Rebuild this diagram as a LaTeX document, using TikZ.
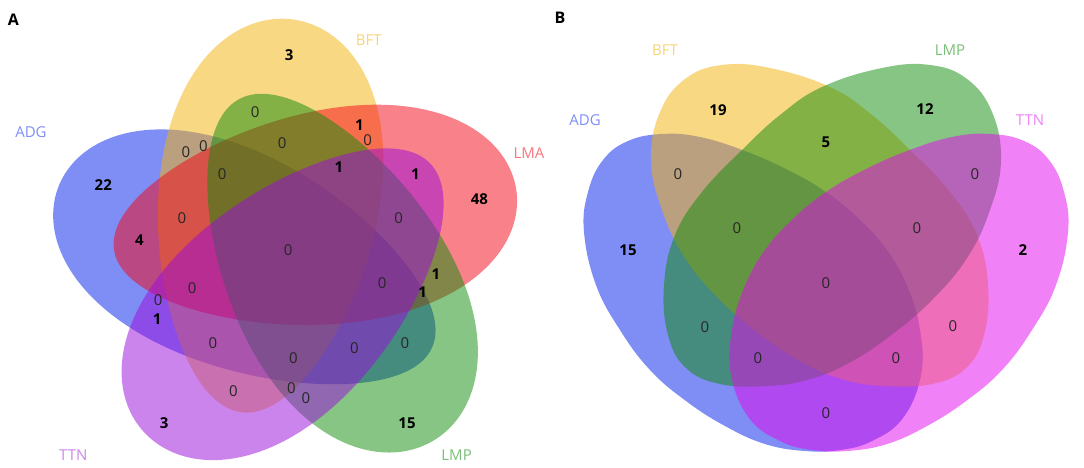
\documentclass[tikz,border=0pt]{standalone}
\usepackage{fontspec}
\setmainfont{Open Sans}
\definecolor{cblue}{RGB}{0,30,235}
\definecolor{cyellow}{RGB}{245,178,10}
\definecolor{cred}{RGB}{245,5,20}
\definecolor{cgreen}{RGB}{15,140,10}
\definecolor{cpurple}{RGB}{155,10,220}
\definecolor{cmagenta}{RGB}{228,5,238}
% \vegg{cx}{cy}{angle}{a}{b}{colour}{egg factor}
\newcommand\vegg[7]{%
  \begin{scope}[shift={(#1,#2)}, rotate=#3]
    \fill[#6, fill opacity=0.5] plot[domain=0:356, samples=90, smooth cycle]
      ({#4*cos(\x)}, {#5*sin(\x)*(1+#7*cos(\x))});
  \end{scope}}
\tikzset{
  blob/.style={fill opacity=0.5},
  num/.style={font=\fontsize{15}{17}\selectfont, text=black!85, inner sep=0pt},
  bnum/.style={font=\fontsize{15}{17}\selectfont\bfseries, text=black, inner sep=0pt},
  lab/.style={font=\fontsize{15}{17}\selectfont, inner sep=0pt},
  panel/.style={font=\fontsize{16}{18}\selectfont\bfseries, inner sep=0pt}
}
\begin{document}
\begin{tikzpicture}[x=1pt, y=-1pt]
\useasboundingbox (0,0) rectangle (1084,467);
\fill[white] (0,0) rectangle (1084,467);
% ---------- Panel A ----------
\begin{scope}[xscale=1.0331]
\vegg{238.3}{264.9}{155}{198}{106}{cblue}{0.17}
\vegg{258.2}{215.8}{83}{198}{106}{cyellow}{0.17}
\vegg{305}{219.5}{9}{197}{106}{cred}{0.17}
\vegg{323.7}{270.9}{298}{195}{106}{cgreen}{0.17}
\vegg{278.9}{298.9}{225}{193}{106}{cpurple}{0.17}
\node[panel] (pa) at (13,20) {A};
\node[lab, text=cblue!50] (la1) at (30,132) {ADG};
\node[lab, text=cyellow!55] (la2) at (357,40) {BFT};
\node[lab, text=cred!55] (la3) at (512,153) {LMA};
\node[lab, text=cpurple!50] (la4) at (71,455) {TTN};
\node[lab, text=cgreen!55] (la5) at (442,455) {LMP};
\node[bnum] (a01) at (280,55) {3};
\node[num] (a02) at (247,112) {0};
\node[bnum] (a03) at (348,125) {1};
\node[num] (a04) at (356,140) {0};
\node[num] (a05) at (273,143) {0};
\node[num] (a06) at (180,152) {0};
\node[num] (a07) at (197,146) {0};
\node[bnum] (a08) at (100,185) {22};
\node[num] (a09) at (215,174) {0};
\node[bnum] (a10) at (328,167) {1};
\node[bnum] (a11) at (402,174) {1};
\node[bnum] (a12) at (464,199) {48};
\node[num] (a13) at (176,218) {0};
\node[num] (a14) at (386,218) {0};
\node[bnum] (a15) at (135,240) {4};
\node[num] (a16) at (279,250) {0};
\node[num] (a17) at (186,288) {0};
\node[num] (a18) at (370,283) {0};
\node[bnum] (a19) at (422,274) {1};
\node[bnum] (a20) at (409,292) {1};
\node[num] (a21) at (153,300) {0};
\node[bnum] (a22) at (152,319) {1};
\node[num] (a23) at (206,343) {0};
\node[num] (a24) at (343,348) {0};
\node[num] (a25) at (392,343) {0};
\node[num] (a26) at (284,358) {0};
\node[num] (a27) at (226,391) {0};
\node[num] (a28) at (282,388) {0};
\node[num] (a29) at (296,398) {0};
\node[bnum] (a30) at (159,423) {3};
\node[bnum] (a31) at (394,423) {15};
\end{scope}
% ---------- Panel B ----------
% ADG
\fill[cblue, blob] plot[smooth cycle, tension=0.7] coordinates {
 (584,232) (588,192) (603,160) (628,141) (662,134) (700,137) (745,151) (788,170)
 (826,192) (858,218) (887,250) (908,288) (920,330) (921,375) (903,418) (872,441)
 (840,450) (805,451) (765,444) (725,426) (686,401) (650,370) (620,330) (596,285)};
% BFT
\fill[cyellow, blob] plot[smooth cycle, tension=0.7] coordinates {
 (722,65) (770,68) (830,87) (872,115) (910,150) (950,192) (977,235) (988,285)
 (984,335) (966,368) (932,384) (885,386) (845,380) (805,364) (762,336) (720,300)
 (685,258) (662,210) (651,160) (660,112) (685,79)};
% LMP
\fill[cgreen, blob] plot[smooth cycle, tension=0.7] coordinates {
 (930,65) (882,68) (822,87) (780,115) (742,150) (702,192) (675,235) (664,285)
 (668,335) (686,368) (720,384) (767,386) (807,380) (847,364) (890,336) (932,300)
 (967,258) (990,210) (1001,160) (992,112) (967,79)};
% TTN
\fill[cmagenta, blob] plot[smooth cycle, tension=0.7] coordinates {
 (1068,232) (1064,192) (1049,160) (1024,141) (990,134) (952,137) (907,151) (864,170)
 (826,192) (794,218) (765,250) (744,288) (732,330) (731,375) (749,418) (780,441)
 (812,450) (847,451) (887,444) (927,426) (966,401) (1002,370) (1032,330) (1056,285)};
\node[panel] (pb) at (560,18) {B};
\node[lab, text=cyellow!55] (lb1) at (665,50) {BFT};
\node[lab, text=cgreen!55] (lb2) at (950,50) {LMP};
\node[lab, text=cblue!50] (lb3) at (585,120) {ADG};
\node[lab, text=cmagenta!50] (lb4) at (1030,120) {TTN};
\node[bnum] (b01) at (718,110) {19};
\node[bnum] (b02) at (925,109) {12};
\node[bnum] (b03) at (826,142) {5};
\node[num] (b04) at (678,174) {0};
\node[num] (b05) at (975,174) {0};
\node[num] (b06) at (737,228) {0};
\node[num] (b07) at (917,228) {0};
\node[bnum] (b08) at (628,250) {15};
\node[bnum] (b09) at (1023,250) {2};
\node[num] (b10) at (826,283) {0};
\node[num] (b11) at (705,327) {0};
\node[num] (b12) at (953,326) {0};
\node[num] (b13) at (758,358) {0};
\node[num] (b14) at (896,358) {0};
\node[num] (b15) at (826,413) {0};
\end{tikzpicture}
\end{document}
